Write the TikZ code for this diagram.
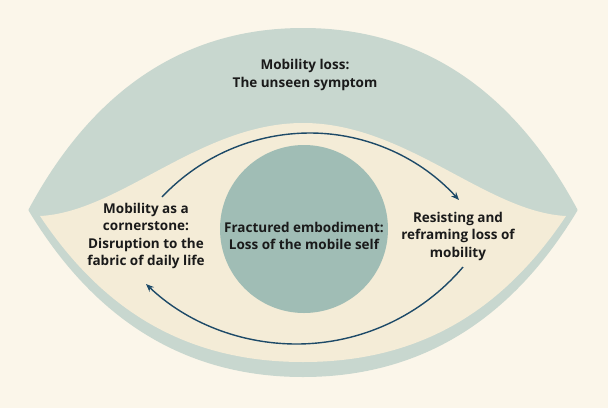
\documentclass[tikz,border=0pt]{standalone}
\usepackage{fontspec}
\setmainfont{Open Sans}
\usetikzlibrary{arrows.meta}
\definecolor{bgcream}{HTML}{FBF6EA}
\definecolor{lidgreen}{HTML}{C8D7CF}
\definecolor{innercream}{HTML}{F4ECD7}
\definecolor{irisgreen}{HTML}{A0BDB5}
\definecolor{arrowblue}{HTML}{1D4A68}
\definecolor{textdark}{HTML}{1A1A1A}
\tikzset{
  lbl/.style={align=center, inner sep=0pt, text=textdark,
    font=\fontsize{13.5}{17.5}\selectfont\bfseries},
  cyclearrow/.style={draw=arrowblue, line width=1.4pt,
    -{Stealth[length=8pt,width=6.5pt]}}
}
\begin{document}
\begin{tikzpicture}[x=1pt,y=-1pt]
\useasboundingbox (0,0) rectangle (608,408);
\fill[bgcream] (0,0) rectangle (608,408);
% outer eye
\path[fill=lidgreen, draw=lidgreen, line width=3pt, line join=round]
  (30,210) .. controls (88,102) and (175,29.5) .. (303,29.5)
  .. controls (431,29.5) and (518,102) .. (576,210)
  .. controls (511,318) and (421,375.5) .. (303,375.5)
  .. controls (185,375.5) and (95,318) .. (30,210) -- cycle;
% inner cream region
\fill[innercream]
  (40,216) .. controls (120,212) and (200,123) .. (303,123)
  .. controls (406,123) and (486,212) .. (566,216)
  .. controls (500,315) and (415,362) .. (303,362)
  .. controls (191,362) and (106,315) .. (40,216) -- cycle;
% iris
\fill[irisgreen] (304,229) circle[radius=84];
% arrows
\coordinate (t1) at (162,197);
\coordinate (ttop) at (310,133);
\coordinate (t2) at (459,200);
\coordinate (b1) at (463,267);
\coordinate (bbot) at (296.5,344);
\coordinate (b2) at (146,284);
\draw[cyclearrow] (t1) .. controls (200.4,156.2) and (254,133) .. (ttop)
  .. controls (367,133) and (420.6,157.9) .. (t2);
\draw[cyclearrow] (b1) .. controls (421.5,315.9) and (360.6,344) .. (bbot)
  .. controls (240.4,344) and (186.6,322.7) .. (b2);
% labels
\node[lbl] (top) at (305,75) {Mobility loss:\\The unseen symptom};
\node[lbl] (left) at (146,236) {Mobility as a\\cornerstone:\\Disruption to the\\fabric of daily life};
\node[lbl] (center) at (304,236) {Fractured embodiment:\\Loss of the mobile self};
\node[lbl] (right) at (458,236) {Resisting and\\reframing loss of\\mobility};
\end{tikzpicture}
\end{document}
